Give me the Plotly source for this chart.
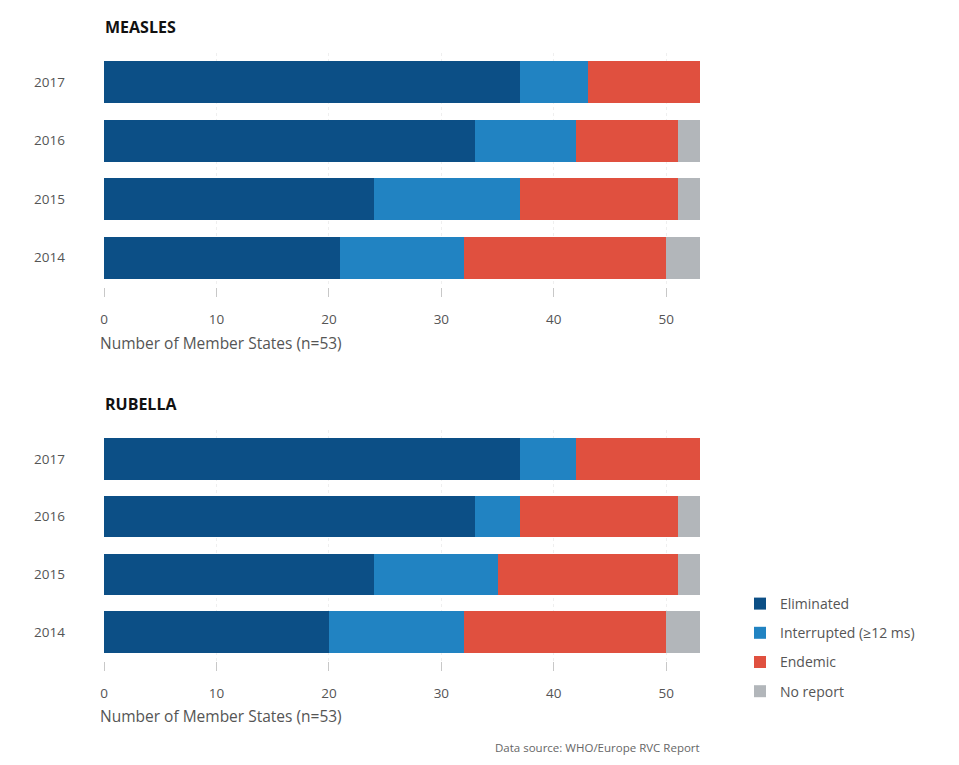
import plotly.graph_objects as go

years = ["2014", "2015", "2016", "2017"]
categories = ["Eliminated", "Interrupted (≥12 ms)", "Endemic", "No report"]
colors = ["#0c4f86", "#2183c2", "#e0503f", "#b2b6ba"]

measles = {
    "Eliminated": [21, 24, 33, 37],
    "Interrupted (≥12 ms)": [11, 13, 9, 6],
    "Endemic": [18, 14, 9, 10],
    "No report": [3, 2, 2, 0],
}
rubella = {
    "Eliminated": [20, 24, 33, 37],
    "Interrupted (≥12 ms)": [12, 11, 4, 5],
    "Endemic": [18, 16, 14, 11],
    "No report": [3, 2, 2, 0],
}
x_ticks = [0, 10, 20, 30, 40, 50]

FONT = "Open Sans"
H = 765.0
L, R = 104, 700
PW = R - L

fig = go.Figure()
for i, cat in enumerate(categories):
    fig.add_trace(go.Bar(
        y=years, x=measles[cat], orientation="h", name=cat,
        marker=dict(color=colors[i], line=dict(width=0)),
        xaxis="x", yaxis="y", showlegend=True, legendgroup=cat,
    ))
for i, cat in enumerate(categories):
    fig.add_trace(go.Bar(
        y=years, x=rubella[cat], orientation="h", name=cat,
        marker=dict(color=colors[i], line=dict(width=0)),
        xaxis="x2", yaxis="y2", showlegend=False, legendgroup=cat,
    ))

def py(px):
    return 1 - px / H

def pxr(px):
    return (px - L) / PW

xcommon = dict(
    range=[0, 53], tickvals=x_ticks, ticks="outside", ticklen=9,
    tickcolor="#c8c8c8", tickwidth=1, showline=False, zeroline=False,
    showgrid=True, gridcolor="#efefef", griddash="dot", gridwidth=1,
    tickfont=dict(family=FONT, size=13.5, color="#555555"),
    ticklabelstandoff=11, fixedrange=True,
)
ycommon = dict(
    showgrid=False, zeroline=False, showline=False, ticks="",
    tickfont=dict(family=FONT, size=13.5, color="#555555"),
    ticklabelstandoff=38, categoryorder="array", categoryarray=years,
)

fig.update_layout(
    width=959, height=765,
    margin=dict(l=L, r=959 - R, t=0, b=0),
    paper_bgcolor="white", plot_bgcolor="white",
    barmode="stack", bargap=0.28,
    font=dict(family=FONT, color="#555555"),
    xaxis=dict(domain=[0, 1], anchor="y", **xcommon),
    yaxis=dict(domain=[py(287), py(53)], anchor="x", **ycommon),
    xaxis2=dict(domain=[0, 1], anchor="y2", **xcommon),
    yaxis2=dict(domain=[py(661), py(430)], anchor="x2", **ycommon),
    legend=dict(
        x=740 / 959, y=py(588), xanchor="left", yanchor="top",
        xref="container", yref="container",
        font=dict(family=FONT, size=14, color="#555555"),
        tracegroupgap=8, itemsizing="constant", traceorder="grouped",
        bgcolor="rgba(0,0,0,0)",
    ),
    annotations=[
        dict(text="<b>MEASLES</b>", x=pxr(103), y=py(27), xref="paper", yref="paper",
             xanchor="left", yanchor="middle", showarrow=False,
             font=dict(family=FONT, size=16, color="#111111")),
        dict(text="<b>RUBELLA</b>", x=pxr(103), y=py(404), xref="paper", yref="paper",
             xanchor="left", yanchor="middle", showarrow=False,
             font=dict(family=FONT, size=16, color="#111111")),
        dict(text="Number of Member States (n=53)", x=pxr(98), y=py(343),
             xref="paper", yref="paper", xanchor="left", yanchor="middle",
             showarrow=False, font=dict(family=FONT, size=15.5, color="#555555")),
        dict(text="Number of Member States (n=53)", x=pxr(98), y=py(716),
             xref="paper", yref="paper", xanchor="left", yanchor="middle",
             showarrow=False, font=dict(family=FONT, size=15.5, color="#555555")),
        dict(text="Data source: WHO/Europe RVC Report", x=pxr(702), y=py(747),
             xref="paper", yref="paper", xanchor="right", yanchor="middle",
             showarrow=False, font=dict(family=FONT, size=11.5, color="#666666")),
    ],
)

fig.write_html("out.html")
